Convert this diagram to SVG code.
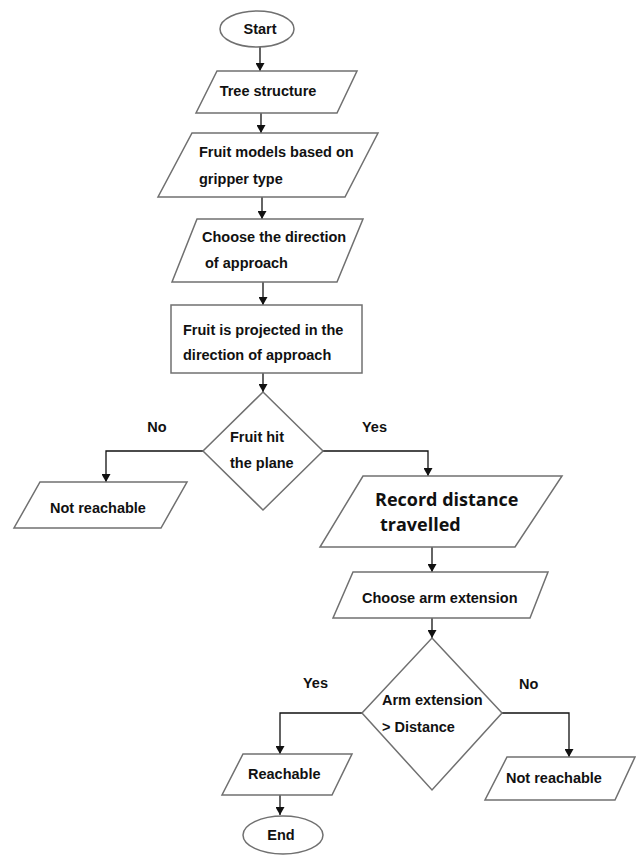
<svg xmlns="http://www.w3.org/2000/svg" width="642" height="856" viewBox="0 0 642 856">
<defs>
<style>
.shape{fill:#fff;stroke:#707070;stroke-width:1.5}
.conn{fill:none;stroke:#111;stroke-width:1.3}
.t{font-family:"Liberation Sans",Arial,sans-serif;font-weight:bold;font-size:14.5px;fill:#111}
.tb{font-family:"Open Sans","Liberation Sans",sans-serif;font-weight:bold;font-size:18px;fill:#111}
.m{text-anchor:middle}
</style>
<marker id="arr" markerUnits="userSpaceOnUse" markerWidth="8" markerHeight="9" refX="8" refY="4.5" orient="auto">
<path d="M0,0 L8,4.5 L0,9 z" fill="#111"/>
</marker>
</defs>
<rect width="642" height="856" fill="#fff"/>
<g id="connectors">
<path class="conn" d="M260,47 V71" marker-end="url(#arr)"/>
<path class="conn" d="M261,113 V133" marker-end="url(#arr)"/>
<path class="conn" d="M262,197 V219" marker-end="url(#arr)"/>
<path class="conn" d="M263,282 V305" marker-end="url(#arr)"/>
<path class="conn" d="M263,373 V392" marker-end="url(#arr)"/>
<path class="conn" d="M203,451 H106 V482" marker-end="url(#arr)"/>
<path class="conn" d="M323,451 H428 V476" marker-end="url(#arr)"/>
<path class="conn" d="M432,547 V572" marker-end="url(#arr)"/>
<path class="conn" d="M432,618 V638" marker-end="url(#arr)"/>
<path class="conn" d="M362,713 H280 V754" marker-end="url(#arr)"/>
<path class="conn" d="M502,713 H569 V757" marker-end="url(#arr)"/>
<path class="conn" d="M280,795 V815" marker-end="url(#arr)"/>
</g>
<g id="start">
<ellipse class="shape" cx="257" cy="29" rx="37" ry="18"/>
<text class="t m" x="260" y="34">Start</text>
</g>
<g id="tree">
<polygon class="shape" points="217,71 357,71 337,113 196,113"/>
<text class="t m" x="268" y="96">Tree structure</text>
</g>
<g id="models">
<polygon class="shape" points="192,133 378,133 345,197 158,197"/>
<text class="t" x="199" y="157">Fruit models based on</text>
<text class="t" x="199" y="184">gripper type</text>
</g>
<g id="direction">
<polygon class="shape" points="197,219 363,219 337,282 172,282"/>
<text class="t" x="202" y="242">Choose the direction</text>
<text class="t" x="205" y="268">of approach</text>
</g>
<g id="project">
<rect class="shape" x="171" y="305" width="191" height="68"/>
<text class="t" x="183" y="335">Fruit is projected in the</text>
<text class="t" x="183" y="360">direction of approach</text>
</g>
<g id="hit">
<polygon class="shape" points="263,392 323,451 263,510 203,451"/>
<text class="t" x="230" y="442">Fruit hit</text>
<text class="t" x="230" y="468">the plane</text>
</g>
<g id="labels1">
<text class="t m" x="157" y="432">No</text>
<text class="t" x="362" y="432">Yes</text>
</g>
<g id="notreach1">
<polygon class="shape" points="40,482 187,482 161,528 14,528"/>
<text class="t" x="50" y="513">Not reachable</text>
</g>
<g id="record">
<polygon class="shape" points="363,476 562,476 515,547 320,547"/>
<text class="tb" x="375" y="506">Record distance</text>
<text class="tb" x="380" y="531">travelled</text>
</g>
<g id="arm">
<polygon class="shape" points="353,572 548,572 530,618 333,618"/>
<text class="t" x="362" y="603">Choose arm extension</text>
</g>
<g id="compare">
<polygon class="shape" points="432,638 502,713 432,790 362,713"/>
<text class="t" x="382" y="705">Arm extension</text>
<text class="t" x="382" y="732">&gt; Distance</text>
</g>
<g id="labels2">
<text class="t" x="303" y="688">Yes</text>
<text class="t" x="519" y="689">No</text>
</g>
<g id="reachable">
<polygon class="shape" points="243,754 352,754 332,795 222,795"/>
<text class="t" x="248" y="779">Reachable</text>
</g>
<g id="notreach2">
<polygon class="shape" points="507,757 635,757 615,800 485,800"/>
<text class="t" x="506" y="783">Not reachable</text>
</g>
<g id="end">
<ellipse class="shape" cx="283" cy="835" rx="40" ry="19"/>
<text class="t m" x="281" y="840">End</text>
</g>
</svg>
